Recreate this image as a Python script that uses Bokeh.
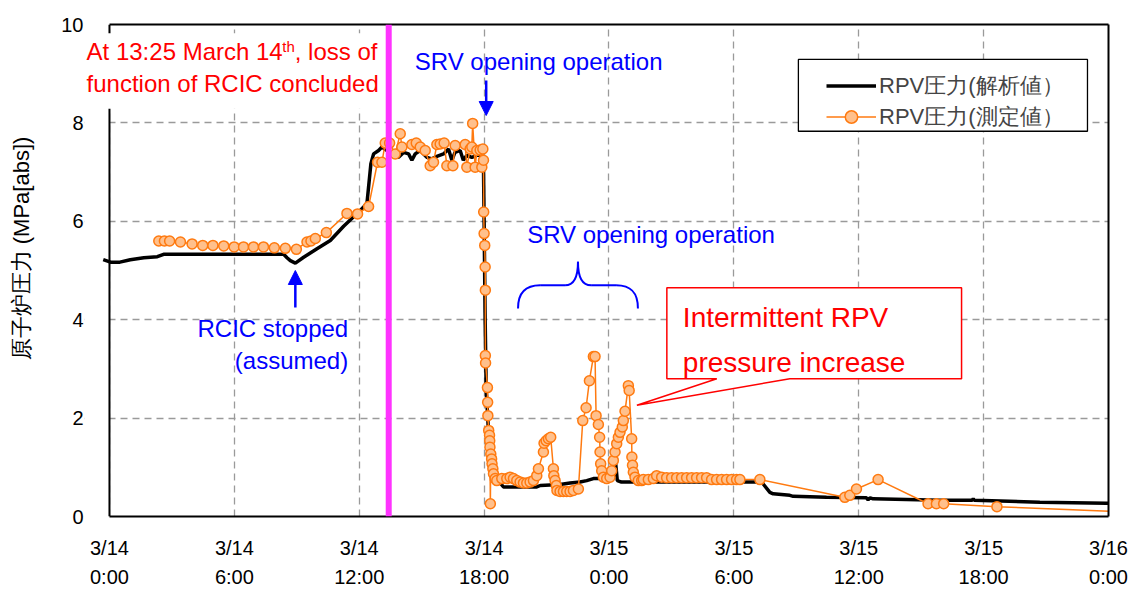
import math
from bokeh.plotting import figure
from bokeh.models import (Range1d, FixedTicker, LinearAxis, Label, Arrow, NormalHead,
                          Legend, LegendItem, Span)
from bokeh.embed import file_html
from bokeh.resources import INLINE

FONT = "Liberation Sans"

# ---------------- data ----------------
# analysis (解析値): hours from 3/14 0:00, pressure MPa[abs]
calc_hours = [-0.3, 0.05, 0.5, 1.0, 1.65, 2.3, 2.6, 5.0, 8.37, 8.53, 8.69, 8.93, 9.33, 9.97,
              10.61, 11.25, 12.05, 12.37, 12.56, 12.69, 12.93, 13.09, 13.4, 13.65, 13.89,
              14.13, 14.37, 14.53, 14.69, 14.93, 15.25, 15.49, 15.73, 16.05, 16.29, 16.45,
              16.6, 16.85, 17.0, 17.17, 17.41, 17.65, 17.89, 17.97, 18.0, 18.05, 18.1, 18.2,
              18.35, 18.55, 18.93, 20.53, 20.7, 21.65, 22.13, 22.61, 22.93, 23.25, 24.2,
              24.29, 24.4, 24.6, 31.3, 31.41, 31.73, 31.89, 32.69, 32.85, 34.45, 36.37,
              36.45, 36.55, 36.69, 39.89, 41.45, 41.5, 41.55, 44.7, 47.9, 48.5]
calc_mpa = [5.22, 5.17, 5.17, 5.22, 5.26, 5.28, 5.33, 5.33, 5.33, 5.26, 5.20, 5.15, 5.27, 5.44,
            5.61, 5.90, 6.22, 6.36, 7.17, 7.37, 7.44, 7.51, 7.42, 7.34, 7.30,
            7.40, 7.37, 7.24, 7.37, 7.44, 7.30, 7.27, 7.32, 7.37, 7.47, 7.24,
            7.40, 7.44, 7.24, 7.34, 7.30, 7.34, 7.34, 7.10, 6.00, 4.00, 2.60, 1.80,
            1.20, 0.80, 0.60, 0.60, 0.63, 0.65, 0.68, 0.70, 0.73, 0.77, 0.77,
            1.21, 0.73, 0.70, 0.70, 0.66, 0.49, 0.46, 0.43, 0.41, 0.39, 0.38,
            0.34, 0.38, 0.36, 0.33, 0.33, 0.36, 0.33, 0.29, 0.27, 0.27]

# measured (測定値)
meas_hours = [2.37, 2.64, 2.89, 3.41, 3.97, 4.48, 4.97, 5.49, 5.99, 6.44, 6.92, 7.40, 7.92,
              8.45, 8.98, 9.49, 9.68, 9.89, 10.42, 11.41, 11.92, 12.45, 12.88, 13.09, 13.25,
              13.46, 13.73, 13.97, 14.05, 14.53, 14.74, 14.93, 15.17, 15.41, 15.57, 15.73,
              15.89, 16.08, 16.21, 16.50, 16.61, 17.09, 17.17, 17.33, 17.41, 17.45, 17.57,
              17.65, 17.81, 17.89, 17.94, 17.97, 17.98, 18.00, 18.03, 18.05, 18.06, 18.06,
              18.07, 18.16, 18.17, 18.18, 18.22, 18.26, 18.27, 18.28, 18.30, 18.32, 18.36,
              18.38, 18.42, 18.45, 18.53, 18.61, 18.85, 19.09, 19.25, 19.41, 19.57, 19.73,
              19.89, 20.05, 20.21, 20.37, 20.53, 20.61, 20.85, 20.88, 20.98, 21.09, 21.20,
              21.33, 21.35, 21.41, 21.47, 21.50, 21.65, 21.81, 21.97, 22.13, 22.29, 22.53,
              22.74, 22.90, 23.06, 23.25, 23.33, 23.38, 23.49, 23.55, 23.57, 23.60, 23.65,
              23.73, 23.89, 24.05, 24.13, 24.21, 24.29, 24.37, 24.45, 24.53, 24.64, 24.69,
              24.77, 24.93, 24.97, 25.09, 25.10, 25.13, 25.17, 25.25, 25.41, 25.57, 25.65,
              25.89, 26.13, 26.29, 26.53, 26.77, 27.01, 27.25, 27.49, 27.73, 27.97, 28.21,
              28.45, 28.69, 28.93, 29.17, 29.41, 29.65, 29.89, 30.13, 30.29, 31.25, 35.33,
              35.57, 35.89, 36.93, 39.33, 39.73, 40.08, 42.64, 48.5]
meas_mpa = [5.60, 5.60, 5.60, 5.58, 5.54, 5.51, 5.51, 5.50, 5.48, 5.48, 5.48, 5.48, 5.46,
            5.45, 5.43, 5.58, 5.60, 5.65, 5.77, 6.16, 6.15, 6.30, 7.20, 7.20, 7.59,
            7.59, 7.37, 7.78, 7.51, 7.56, 7.59, 7.51, 7.44, 7.13, 7.20, 7.56,
            7.57, 7.59, 7.13, 7.13, 7.54, 7.56, 7.10, 7.47, 7.51, 7.99, 7.10,
            7.44, 7.45, 7.10, 7.47, 7.24, 6.19, 5.75, 5.51, 5.07, 4.60, 3.27,
            3.12, 2.62, 2.32, 2.05, 1.75, 1.65, 1.54, 1.41, 0.26, 1.27, 1.17,
            1.07, 0.97, 0.87, 0.77, 0.73, 0.77, 0.77, 0.80, 0.77, 0.73, 0.70,
            0.68, 0.68, 0.70, 0.73, 0.83, 0.97, 1.31, 1.49, 1.54, 1.58, 1.61,
            0.97, 0.83, 0.73, 0.63, 0.53, 0.51, 0.51, 0.51, 0.51, 0.53, 0.56,
            1.95, 2.21, 2.76, 3.25, 3.25, 2.05, 1.87, 1.61, 1.31, 1.07, 0.93,
            0.80, 0.77, 0.80, 0.93, 1.14, 1.31, 1.48, 1.61, 1.71, 1.82, 1.95,
            2.14, 2.66, 2.56, 1.58, 1.21, 1.04, 0.90, 0.80, 0.73, 0.73, 0.75,
            0.75, 0.77, 0.83, 0.80, 0.79, 0.79, 0.79, 0.79, 0.79, 0.79, 0.79,
            0.79, 0.79, 0.75, 0.75, 0.75, 0.75, 0.75, 0.75, 0.75, 0.75, 0.39,
            0.43, 0.56, 0.75, 0.26, 0.26, 0.26, 0.20, 0.10]

tick_hours = [0, 6, 12, 18, 24, 30, 36, 42, 48]
tick_dates = ["3/14", "3/14", "3/14", "3/14", "3/15", "3/15", "3/15", "3/15", "3/16"]
tick_times = ["0:00", "6:00", "12:00", "18:00", "0:00", "6:00", "12:00", "18:00", "0:00"]
y_ticks = [0, 2, 4, 6, 8, 10]

legend_labels = ["RPV圧力(解析値）", "RPV圧力(測定値）"]
y_title = "原子炉圧力 (MPa[abs])"
rcic_loss_hour = 13 + 25 / 60

X0, X1 = 0, 48        # time span of the axes
XPAD = -1.2           # room left of the axis for the note text
PX_PER_MPA = 49.2
ORANGE = "#FF7A10"
ORANGE_FILL = "#FFC08C"
RED = "#FF0000"
BLUE = "#0000FF"

# ---------------- figure ----------------
p = figure(width=1130, height=592, x_range=Range1d(XPAD, X1), y_range=Range1d(0, 10),
           output_backend="svg", toolbar_location=None,
           min_border_left=84, min_border_right=22, min_border_top=24, min_border_bottom=76)
p.outline_line_color = None
p.background_fill_color = "white"
p.border_fill_color = "white"

xa = p.xaxis[0]
xa.ticker = FixedTicker(ticks=tick_hours)
xa.major_label_overrides = {h: d for h, d in zip(tick_hours, tick_dates)}
xa.bounds = (X0, X1)
ya = p.yaxis[0]
ya.ticker = FixedTicker(ticks=y_ticks)

xa2 = LinearAxis(ticker=FixedTicker(ticks=tick_hours), bounds=(X0, X1),
                 major_label_overrides={h: t for h, t in zip(tick_hours, tick_times)})
p.add_layout(xa2, "below")

for ax in (xa, xa2, ya):
    ax.major_tick_out = 0
    ax.major_tick_in = 0
    ax.minor_tick_out = 0
    ax.minor_tick_in = 0
    ax.major_tick_line_color = None
    ax.minor_tick_line_color = None
    ax.major_label_text_font = FONT
    ax.major_label_text_font_size = "20px"
    ax.major_label_text_color = "black"
    ax.axis_line_color = "black"
    ax.axis_line_width = 2
xa2.axis_line_color = None
ya.axis_line_color = None
xa.major_label_standoff = 20
xa2.major_label_standoff = 4
ya.major_label_standoff = 1

# y title: two ideographic spaces lift it above the frame centre as in the original
ya.axis_label = "\u3000\u3000" + y_title
ya.axis_label_standoff = 24
ya.axis_label_text_font = FONT
ya.axis_label_text_font_size = "22px"
ya.axis_label_text_font_style = "normal"
ya.axis_label_text_color = "black"

# top and right frame edges
top_ax = LinearAxis(ticker=FixedTicker(ticks=[]), bounds=(X0, X1), axis_line_width=2,
                    major_tick_line_color=None, minor_tick_line_color=None,
                    major_tick_out=0, minor_tick_out=0)
p.add_layout(top_ax, "above")
right_ax = LinearAxis(ticker=FixedTicker(ticks=[]), bounds=(0, 10), axis_line_width=2,
                      major_tick_line_color=None, minor_tick_line_color=None,
                      major_tick_out=0, minor_tick_out=0)
p.add_layout(right_ax, "right")

for g in (p.xgrid[0], p.ygrid[0]):
    g.grid_line_color = "#9A9A9A"
    g.grid_line_dash = "7 5"
    g.grid_line_width = 1.3
p.ygrid[0].ticker = FixedTicker(ticks=y_ticks)

# blank strip left of the time axis, then the left frame edge
p.quad(left=XPAD, right=X0, bottom=0, top=10, fill_color="white", line_color=None)
p.segment(x0=[X0], y0=[0], x1=[X0], y1=[10], line_color="black", line_width=2)
# white panel behind the red note (hides frame edge and grid there)
p.quad(left=XPAD, right=13.12, bottom=8.29, top=9.82, fill_color="white", line_color=None)

# legend box (drawn under the data)
p.quad(left=33.10, right=46.99, bottom=7.83, top=9.29, fill_color="white",
       line_color="black", line_width=1.3)

r_calc = p.line(calc_hours, calc_mpa, line_color="black", line_width=3.5)
r_meas_line = p.line(meas_hours, meas_mpa, line_color=ORANGE, line_width=1.5)
r_meas_pts = p.scatter(meas_hours, meas_mpa, marker="circle", size=10,
                       fill_color=ORANGE_FILL, line_color=ORANGE, line_width=1.5)

# red callout
p.patch(x=[26.78, 40.94, 40.94, 32.69, 25.34, 29.18, 26.78],
        y=[4.65, 4.65, 2.80, 2.80, 2.26, 2.80, 2.80],
        fill_color="white", line_color=RED, line_width=1.5)

# brace
p.bezier(x0=[19.63, 20.69, 21.89, 22.51, 23.14, 24.34],
         y0=[4.23, 4.70, 4.70, 5.18, 4.70, 4.70],
         x1=[20.69, 21.89, 22.51, 23.14, 24.34, 25.39],
         y1=[4.70, 4.70, 5.18, 4.70, 4.70, 4.23],
         cx0=[19.63, 20.69, 22.37, 22.51, 23.14, 25.06],
         cy0=[4.55, 4.70, 4.70, 4.90, 4.70, 4.70],
         cx1=[19.97, 21.89, 22.51, 22.66, 24.34, 25.39],
         cy1=[4.70, 4.70, 4.90, 4.70, 4.70, 4.55],
         line_color=BLUE, line_width=2)

p.add_layout(Span(location=rcic_loss_hour, dimension="height", line_color="#FF33FF",
                  line_width=6))

# arrows
p.add_layout(Arrow(end=NormalHead(size=14, fill_color=BLUE, line_color=BLUE),
                   x_start=18.1, y_start=8.86, x_end=18.1, y_end=8.15,
                   line_color=BLUE, line_width=2.5))
p.add_layout(Arrow(end=NormalHead(size=14, fill_color=BLUE, line_color=BLUE),
                   x_start=8.93, y_start=4.25, x_end=8.93, y_end=5.0,
                   line_color=BLUE, line_width=2.5))


def lab(x, y, text, color, size_px, align="left"):
    # lift by 0.3 em so the alphabetic baseline sits where it was measured
    y_adj = y + 0.3 * size_px / PX_PER_MPA
    p.add_layout(Label(x=x, y=y_adj, text=text, text_color=color, text_font=FONT,
                       text_font_size=f"{size_px}px", text_align=align,
                       text_baseline="alphabetic"))


lab(-1.10, 9.31, "At 13:25 March 14", RED, 24)
lab(8.30, 9.47, "th", RED, 15)
lab(8.90, 9.31, ", loss of", RED, 24)
lab(-1.10, 8.66, "function of RCIC concluded", RED, 24)
lab(20.62, 9.11, "SRV opening operation", BLUE, 24, align="center")
lab(26.02, 5.59, "SRV opening operation", BLUE, 24, align="center")
lab(11.47, 3.68, "RCIC stopped", BLUE, 24, align="right")
lab(11.47, 3.03, "(assumed)", BLUE, 24, align="right")
lab(27.55, 3.88, "Intermittent RPV", RED, 28)
lab(27.55, 2.95, "pressure increase", RED, 28)

legend = Legend(items=[LegendItem(label=legend_labels[0], renderers=[r_calc]),
                       LegendItem(label=legend_labels[1], renderers=[r_meas_line, r_meas_pts])],
                location=(742, 384), label_text_font=FONT, label_text_font_size="22px",
                label_text_line_height=1.0,
                label_height=31, glyph_height=31, glyph_width=50, label_standoff=3,
                padding=5, spacing=0, margin=0, border_line_color=None,
                background_fill_alpha=0)
p.add_layout(legend)

open("out.html", "w").write(file_html(p, INLINE))
